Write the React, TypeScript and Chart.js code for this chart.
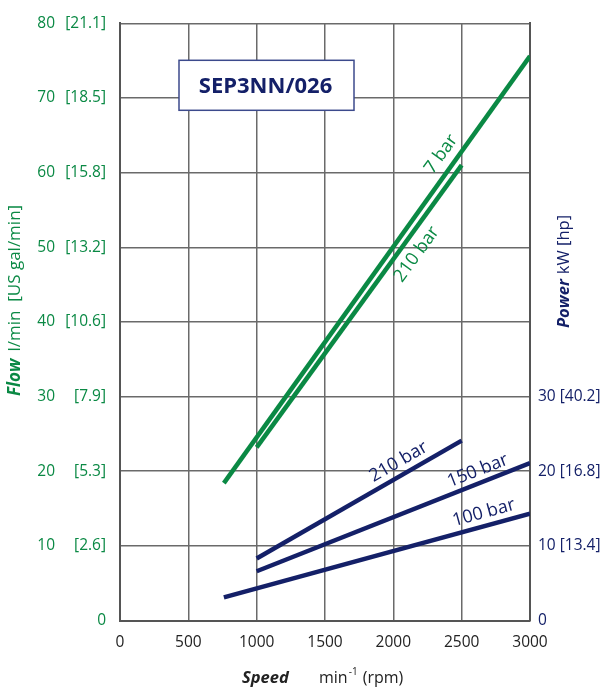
import React, { useEffect, useRef } from 'react';
import { Chart, registerables } from 'chart.js';

Chart.register(...registerables);

// ---- data ----
const speedTicks = [0, 500, 1000, 1500, 2000, 2500, 3000];
const flowTicks = [0, 10, 20, 30, 40, 50, 60, 70, 80];
const galLabels = ['0', '[2.6]', '[5.3]', '[7.9]', '[10.6]', '[13.2]', '[15.8]', '[18.5]', '[21.1]'];
const powerTicks = [0, 10, 20, 30];
const powerLabels = ['0', '10 [13.4]', '20 [16.8]', '30 [40.2]'];

const flow7barRpm = [760, 3000];
const flow7barLpm = [18.4, 75.6];
const flow210barRpm = [1000, 2500];
const flow210barLpm = [23.2, 61.0];
const power210barRpm = [1000, 2500];
const power210barKw = [8.3, 24.1];
const power150barRpm = [1000, 3000];
const power150barKw = [6.6, 21.1];
const power100barRpm = [760, 3000];
const power100barKw = [3.1, 14.3];
const seriesNames = ['7 bar', '210 bar', '210 bar', '150 bar', '100 bar'];

const modelName = 'SEP3NN/026';

export default function App() {
  const ref = useRef<HTMLCanvasElement>(null);

  useEffect(() => {
    const canvas = ref.current!;
    const FONT = "'Open Sans', 'DejaVu Sans', sans-serif";
    const GREEN = '#0a8944';
    const NAVY = '#142068';
    const GRID = '#6a6a6a';
    const pairs = (xs: number[], ys: number[]) => xs.map((x, i) => ({ x, y: ys[i] }));

    const datasets = [
      { label: seriesNames[0], data: pairs(flow7barRpm, flow7barLpm), yAxisID: 'yFlow', borderColor: GREEN },
      { label: seriesNames[1], data: pairs(flow210barRpm, flow210barLpm), yAxisID: 'yFlow', borderColor: GREEN },
      { label: seriesNames[2], data: pairs(power210barRpm, power210barKw), yAxisID: 'yPower', borderColor: NAVY },
      { label: seriesNames[3], data: pairs(power150barRpm, power150barKw), yAxisID: 'yPower', borderColor: NAVY },
      { label: seriesNames[4], data: pairs(power100barRpm, power100barKw), yAxisID: 'yPower', borderColor: NAVY },
    ].map((d) => ({
      ...d,
      borderWidth: 4.5,
      pointRadius: 0,
      fill: false,
      tension: 0,
      borderCapStyle: 'butt' as const,
    }));

    // label placement along each line: rpm position and perpendicular offset (px)
    const placements = [
      { at: 2440, offset: 15 },
      { at: 2076, offset: -16 },
      { at: 2086, offset: 13 },
      { at: 2650, offset: 12 },
      { at: 2687, offset: 13 },
    ];

    const annot = {
      id: 'annot',
      afterDraw(chart: any) {
        const { ctx, chartArea, scales } = chart;
        const xs = scales.x;
        ctx.save();

        // model box
        const bx = chartArea.left + 59, by = chartArea.top + 37, bw = 175, bh = 50;
        ctx.fillStyle = '#ffffff';
        ctx.fillRect(bx, by, bw, bh);
        ctx.strokeStyle = '#3c4a8c';
        ctx.lineWidth = 1.5;
        ctx.strokeRect(bx, by, bw, bh);
        ctx.fillStyle = NAVY;
        ctx.font = `bold 22px ${FONT}`;
        ctx.textAlign = 'center';
        ctx.textBaseline = 'middle';
        ctx.fillText(modelName, bx + bw / 2 - 1, by + bh / 2 + 1);

        // series labels
        chart.data.datasets.forEach((ds: any, i: number) => {
          const ys = scales[ds.yAxisID];
          const pts = ds.data;
          const pl = placements[i];
          let k = 0;
          while (k < pts.length - 2 && pts[k + 1].x < pl.at) k++;
          const a = pts[k], b = pts[k + 1];
          const t = (pl.at - a.x) / (b.x - a.x);
          const vy = a.y + t * (b.y - a.y);
          const px = xs.getPixelForValue(pl.at);
          const py = ys.getPixelForValue(vy);
          const ang = Math.atan2(
            ys.getPixelForValue(b.y) - ys.getPixelForValue(a.y),
            xs.getPixelForValue(b.x) - xs.getPixelForValue(a.x)
          );
          const cx = px + pl.offset * Math.sin(ang);
          const cy = py - pl.offset * Math.cos(ang);
          ctx.save();
          ctx.translate(cx, cy);
          ctx.rotate(ang);
          ctx.font = `18px ${FONT}`;
          ctx.fillStyle = ds.borderColor;
          ctx.textAlign = 'center';
          ctx.textBaseline = 'middle';
          ctx.fillText(ds.label, 0, 0);
          ctx.restore();
        });

        // Flow axis title
        ctx.save();
        ctx.translate(15, 396);
        ctx.rotate(-Math.PI / 2);
        ctx.textAlign = 'left';
        ctx.textBaseline = 'middle';
        ctx.fillStyle = GREEN;
        ctx.font = `italic bold 17px ${FONT}`;
        ctx.fillText('Flow', 0, 0);
        let w = ctx.measureText('Flow').width;
        ctx.font = `17px ${FONT}`;
        ctx.fillText('l/min  [US gal/min]', w + 7, 0);
        ctx.restore();

        // Power axis title
        ctx.save();
        ctx.translate(564, 328);
        ctx.rotate(-Math.PI / 2);
        ctx.textAlign = 'left';
        ctx.textBaseline = 'middle';
        ctx.fillStyle = NAVY;
        ctx.font = `italic bold 16.5px ${FONT}`;
        ctx.fillText('Power', 0, 0);
        w = ctx.measureText('Power').width;
        ctx.font = `16.5px ${FONT}`;
        ctx.fillText('kW [hp]', w + 5, 0);
        ctx.restore();

        // Speed axis title
        ctx.save();
        ctx.textAlign = 'left';
        ctx.textBaseline = 'middle';
        ctx.fillStyle = '#222222';
        ctx.font = `italic bold 16.5px ${FONT}`;
        ctx.fillText('Speed', 242, 678);
        ctx.font = `16px ${FONT}`;
        ctx.fillText('min', 319, 678);
        let mx = 319 + ctx.measureText('min').width;
        ctx.font = `10px ${FONT}`;
        ctx.fillText('-1', mx + 1, 672);
        mx += 1 + ctx.measureText('-1').width;
        ctx.font = `16px ${FONT}`;
        ctx.fillText(' (rpm)', mx + 1, 678);
        ctx.restore();

        ctx.restore();
      },
    };

    const chart = new Chart(canvas, {
      type: 'line',
      data: { datasets },
      options: {
        animation: false,
        responsive: false,
        maintainAspectRatio: false,
        layout: { padding: { top: 17, left: 0, right: 0, bottom: 0 } },
        plugins: { legend: { display: false }, tooltip: { enabled: false } },
        scales: {
          x: {
            type: 'linear',
            min: speedTicks[0],
            max: speedTicks[speedTicks.length - 1],
            afterBuildTicks: (s: any) => { s.ticks = speedTicks.map((v) => ({ value: v })); },
            ticks: {
              color: '#222222',
              font: { family: FONT, size: 15.5 },
              padding: 13,
              maxRotation: 0,
              callback: (v: any) => String(v),
            },
            grid: { color: GRID, lineWidth: 1.5, drawTicks: false },
            border: { display: true, color: '#555555', width: 2 },
            afterFit: (s: any) => { s.height = 68.5; },
          },
          yFlow: {
            type: 'linear',
            position: 'left',
            weight: 1,
            min: 0,
            max: 80,
            afterBuildTicks: (s: any) => { s.ticks = flowTicks.map((v) => ({ value: v })); },
            ticks: {
              color: GREEN,
              font: { family: FONT, size: 15.5 },
              padding: 7,
              callback: (v: any) => (v === 0 ? '' : String(v)),
            },
            grid: { color: GRID, lineWidth: 1.5, drawTicks: false },
            border: { display: false },
            afterFit: (s: any) => { s.width = 62; },
          },
          yGal: {
            type: 'linear',
            position: 'left',
            weight: 0,
            min: 0,
            max: 80,
            afterBuildTicks: (s: any) => { s.ticks = flowTicks.map((v) => ({ value: v })); },
            ticks: {
              color: GREEN,
              font: { family: FONT, size: 15.5 },
              padding: 14,
              callback: (v: any) => galLabels[flowTicks.indexOf(v)] ?? '',
            },
            grid: { display: false, drawTicks: false },
            border: { display: true, color: '#555555', width: 2 },
            afterFit: (s: any) => { s.width = 58; },
          },
          yPower: {
            type: 'linear',
            position: 'right',
            min: 0,
            max: 80,
            afterBuildTicks: (s: any) => { s.ticks = flowTicks.map((v) => ({ value: v })); },
            ticks: {
              color: NAVY,
              font: { family: FONT, size: 15.5 },
              padding: 8,
              callback: (v: any) => {
                const k = powerTicks.indexOf(v);
                return k >= 0 ? powerLabels[k] : '';
              },
            },
            grid: { display: false, drawTicks: false },
            border: { display: true, color: '#555555', width: 2 },
            afterFit: (s: any) => { s.width = 79; },
          },
        },
      } as any,
      plugins: [annot],
    });

    return () => chart.destroy();
  }, []);

  return (
    <div style={{ position: 'absolute', left: 0, top: 0, width: 609, height: 689, background: '#ffffff' }}>
      <canvas ref={ref} width={609} height={689} style={{ display: 'block', width: 609, height: 689 }} />
    </div>
  );
}
